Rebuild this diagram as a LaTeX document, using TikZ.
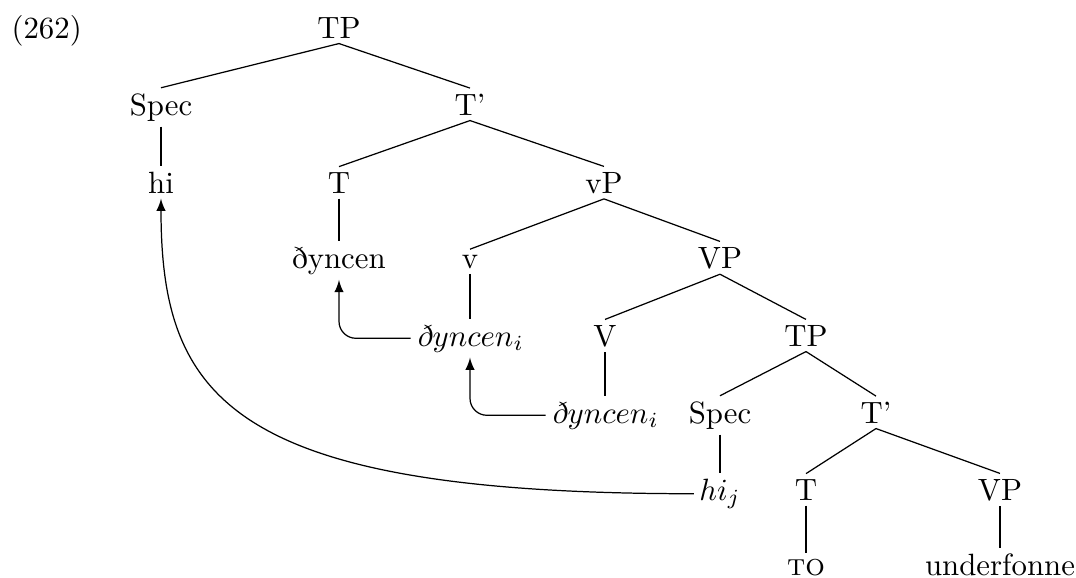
\documentclass[tikz,border=0pt]{standalone}
\usetikzlibrary{arrows.meta}
\begin{document}
\begin{tikzpicture}[x=0.3247pt, y=-0.3247pt,
  lab/.style={anchor=base, inner sep=1.6pt},
  branch/.style={line width=0.4pt},
  mv/.style={-latex, line width=0.4pt, rounded corners=5.5pt}]
\useasboundingbox (0,0) rectangle (1076,577);
\node[anchor=base west, inner sep=0pt] (num) at (11,38) {(262)};
% nodes
\node[lab] (tp1)   at (339,38)  {TP};
\node[lab] (spec1) at (161,115) {Spec};
\node[lab] (tb1)   at (470,115) {T'};
\node[lab] (hi)    at (161,193) {hi};
\node[lab] (t1)    at (339,193) {T};
\node[lab] (vp)    at (604,193) {vP};
\node[lab] (dyn)   at (339,268) {ðyncen};
\node[lab] (v)     at (470,268) {v};
\node[lab] (VP1)   at (720,268) {VP};
\node[lab] (dyi1)  at (470,346) {\textit{ð}$yncen_i$};
\node[lab] (V)     at (605,346) {V};
\node[lab] (tp2)   at (806,346) {TP};
\node[lab] (dyi2)  at (605,423) {\textit{ð}$yncen_i$};
\node[lab] (spec2) at (720,423) {Spec};
\node[lab] (tb2)   at (876,423) {T'};
\node[lab] (hij)   at (720,500) {$hi_j$};
\node[lab] (t2)    at (806,500) {T};
\node[lab] (vp2)   at (1000,500) {VP};
\node[lab] (to)    at (806,575) {\textsc{to}};
\node[lab] (uf)    at (1000,575) {underfonne};
% branches
\draw[branch] (tp1.south) -- (spec1.north);
\draw[branch] (tp1.south) -- (tb1.north);
\draw[branch] (spec1.south) -- (hi.north);
\draw[branch] (tb1.south) -- (t1.north);
\draw[branch] (tb1.south) -- (vp.north);
\draw[branch] (t1.south) -- (dyn.north);
\draw[branch] (vp.south) -- (v.north);
\draw[branch] (vp.south) -- (VP1.north);
\draw[branch] (v.south) -- (dyi1.north);
\draw[branch] (VP1.south) -- (V.north);
\draw[branch] (VP1.south) -- (tp2.north);
\draw[branch] (V.south) -- (dyi2.north);
\draw[branch] (tp2.south) -- (spec2.north);
\draw[branch] (tp2.south) -- (tb2.north);
\draw[branch] (spec2.south) -- (hij.north);
\draw[branch] (tb2.south) -- (t2.north);
\draw[branch] (tb2.south) -- (vp2.north);
\draw[branch] (t2.south) -- (to.north);
\draw[branch] (vp2.south) -- (uf.north);
% movement arrows
\draw[mv] (dyi1.west) -| (dyn.south);
\draw[mv] (dyi2.west) -| (dyi1.south);
\draw[-latex, line width=0.4pt] (hij.west) .. controls +(-463,0) and +(0,200) .. (hi.south);
\end{tikzpicture}
\end{document}
